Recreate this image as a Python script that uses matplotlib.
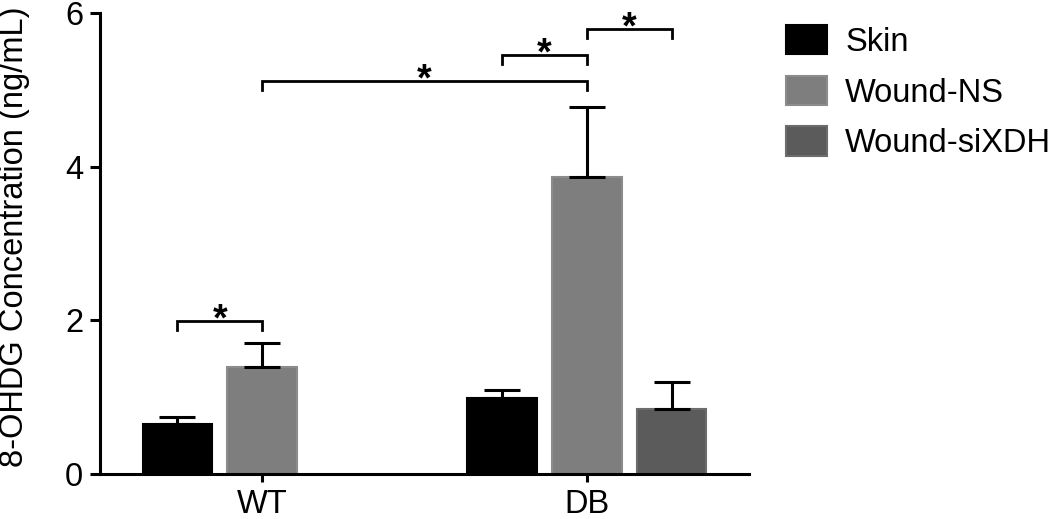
import matplotlib.pyplot as plt
import numpy as np

plt.rcParams["font.family"] = ["Liberation Sans", "DejaVu Sans"]

groups = ["WT", "DB"]
series = ["Skin", "Wound-NS", "Wound-siXDH"]
skin = [0.65, 0.99]
skin_err = [0.09, 0.10]
wound_ns = [1.39, 3.87]
wound_ns_err = [0.31, 0.91]
wound_sixdh = [np.nan, 0.85]
wound_sixdh_err = [np.nan, 0.35]

# (left bar, right bar) as (group, series index), bracket height
brackets = [((0, 0), (0, 1), 1.99), ((0, 1), (1, 1), 5.12),
            ((1, 0), (1, 1), 5.45), ((1, 1), (1, 2), 5.79)]

fills = ["#000000", "#7e7e7e", "#5b5b5b"]
edges = ["#000000", "#8c8c8c", "#6c6c6c"]
fs = 23.5

fig = plt.figure(figsize=(10.5, 5.19), dpi=100)
ax = fig.add_axes([100 / 1050, 1 - 474 / 519, 649 / 1050, 461 / 519])

x = np.arange(len(groups))
step = 0.2615
width = 0.215
values = [skin, wound_ns, wound_sixdh]
errors = [skin_err, wound_ns_err, wound_sixdh_err]
for i, (vals, errs) in enumerate(zip(values, errors)):
    pos = x + (i - 1) * step
    vals = np.array(vals)
    errs = np.array(errs)
    ok = ~np.isnan(vals)
    ax.bar(pos[ok], vals[ok], width, color=fills[i], edgecolor=edges[i],
           linewidth=1.5, label=series[i], zorder=2)
    ax.errorbar(pos[ok], vals[ok], yerr=[np.zeros(ok.sum()), errs[ok]],
                fmt="none", ecolor="black", elinewidth=2.2, capsize=13,
                capthick=2.2, zorder=3)

drop = 0.12
for (g1, s1), (g2, s2), h in brackets:
    x1 = x[g1] + (s1 - 1) * step
    x2 = x[g2] + (s2 - 1) * step
    ax.plot([x1, x1, x2, x2], [h - drop, h, h, h - drop], color="black",
            lw=2.0, solid_joinstyle="miter", clip_on=False)
    ax.annotate("*", ((x1 + x2) / 2, h), xytext=(0, -7),
                textcoords="offset points", ha="center", va="baseline",
                fontsize=27, fontweight="bold", annotation_clip=False)

ax.set_xlim(-0.5, 1.5)
ax.set_ylim(0, 6)
ax.set_yticks([0, 2, 4, 6])
ax.set_xticks(x)
ax.set_xticklabels(groups)
ax.set_ylabel("8-OHDG Concentration (ng/mL)", fontsize=fs)
ax.yaxis.set_label_coords(-0.108, 0.514)
ax.tick_params(axis="both", labelsize=fs, width=2.2, color="black")
ax.tick_params(axis="y", length=7, pad=5)
ax.tick_params(axis="x", length=6, pad=5)
for side in ["top", "right"]:
    ax.spines[side].set_visible(False)
for side in ["left", "bottom"]:
    ax.spines[side].set_linewidth(2.2)

fig.legend(loc="upper left", bbox_to_anchor=(786 / 1050, 1 - 25 / 519),
           frameon=False, fontsize=fs, borderpad=0, handlelength=1.26,
           handleheight=1.0, handletextpad=0.55, labelspacing=0.55,
           borderaxespad=0)

fig.savefig("out.png", dpi=100)
